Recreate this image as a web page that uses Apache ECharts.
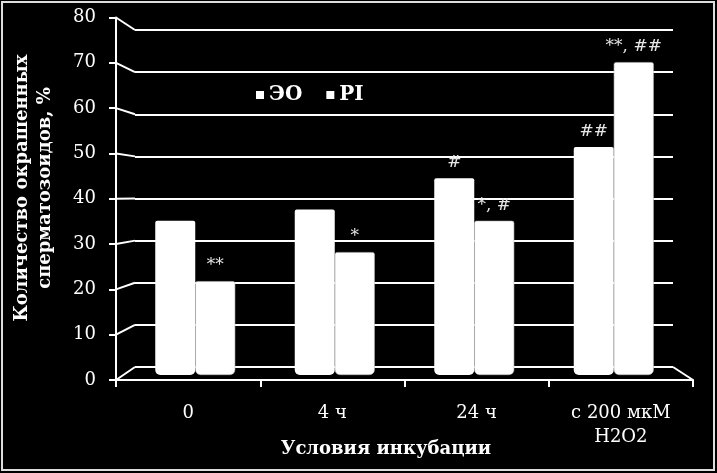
<!DOCTYPE html>
<html><head><meta charset="utf-8">
<script src="https://cdn.jsdelivr.net/npm/echarts@6/dist/echarts.min.js"></script>
<style>html,body{margin:0;padding:0;background:#000}#c{width:717px;height:473px}</style>
</head><body><div id="c"></div>
<script>
const categories = ['0', '4 ч', '24 ч', 'с 200 мкМ\nH2O2'];
const seriesNames = ['ЭО', 'PI'];
const eoValues = [34.5, 37, 44, 51];
const piValues = [21, 27.5, 34.5, 70];
const eoMarks = ['', '', '#', '##'];
const piMarks = ['**', '*', '*, #', '**, ##'];
const yTicks = [0, 10, 20, 30, 40, 50, 60, 70, 80];
const yTitle = ['Количество окрашенных', 'сперматозоидов, %'];
const xTitle = 'Условия инкубации';

const serif = '"DejaVu Serif", "Liberation Serif", serif';
const chart = echarts.init(document.getElementById('c'));

function markLabel(marks) {
  return {
    show: true, position: 'top', distance: 7,
    formatter: p => marks[p.dataIndex],
    color: '#e6e6e6', fontFamily: serif, fontSize: 17
  };
}

const option = {
  backgroundColor: '#000',
  animation: false,
  legend: {
    data: seriesNames, left: 251, top: 80, icon: 'rect',
    itemWidth: 8, itemHeight: 8, itemGap: 24,
    itemStyle: { borderWidth: 0 },
    textStyle: { color: '#fff', fontFamily: serif, fontWeight: 'bold', fontSize: 20 }
  },
  grid: [
    { left: 116, right: 24, top: 17.5, bottom: 93 },
    { left: 135, right: 44, top: 30, bottom: 106 },
    { left: 125.5, right: 33.5, top: 17.4, bottom: 98 }
  ],
  xAxis: [
    { gridIndex: 0, type: 'category', data: categories,
      axisLine: { show: true, lineStyle: { color: '#fff', width: 2 } },
      axisTick: { show: true, length: 7, lineStyle: { color: '#fff', width: 2 } },
      axisLabel: { color: '#fff', fontFamily: serif, fontSize: 18, lineHeight: 24, margin: 21 },
      splitLine: { show: false } },
    { gridIndex: 1, type: 'category', data: categories, show: false },
    { gridIndex: 2, type: 'category', data: categories, show: false }
  ],
  yAxis: [
    { gridIndex: 0, type: 'value', min: 0, max: 80, interval: 10,
      axisLine: { show: true, lineStyle: { color: '#fff', width: 2 } },
      axisTick: { show: true, length: 7, lineStyle: { color: '#fff', width: 2 } },
      axisLabel: { color: '#fff', fontFamily: serif, fontSize: 18, margin: 20 },
      splitLine: { show: false } },
    { gridIndex: 1, type: 'value', min: 0, max: 80, interval: 10,
      axisLine: { show: false }, axisTick: { show: false }, axisLabel: { show: false },
      splitLine: { show: true, lineStyle: { color: '#fff', width: 2 } } },
    { gridIndex: 2, type: 'value', min: 0, max: 80, interval: 10, show: false, splitLine: { show: false } }
  ],
  series: [
    { name: seriesNames[0], type: 'bar', xAxisIndex: 2, yAxisIndex: 2, data: eoValues,
      barWidth: 40, barGap: '0%',
      itemStyle: { color: '#fff', borderRadius: [2, 2, 5, 5] },
      label: markLabel(eoMarks) },
    { name: seriesNames[1], type: 'bar', xAxisIndex: 2, yAxisIndex: 2, data: piValues,
      barWidth: 40, barGap: '0%',
      itemStyle: { color: '#fff', borderRadius: [2, 2, 5, 5], borderColor: '#bbb', borderWidth: 0.6 },
      label: markLabel(piMarks) }
  ]
};
chart.setOption(option);

const front = chart.getModel().getComponent('grid', 0).coordinateSystem.getRect();
const back = chart.getModel().getComponent('grid', 1).coordinateSystem.getRect();
const lineStyle = { stroke: '#fff', lineWidth: 2 };
const graphics = [];
yTicks.forEach(v => {
  const yf = chart.convertToPixel({ yAxisIndex: 0 }, v);
  const yb = chart.convertToPixel({ yAxisIndex: 1 }, v);
  graphics.push({ type: 'line', shape: { x1: front.x, y1: yf, x2: back.x, y2: yb }, style: lineStyle, z: 1 });
});
{
  const yf = chart.convertToPixel({ yAxisIndex: 0 }, yTicks[0]);
  const yb = chart.convertToPixel({ yAxisIndex: 1 }, yTicks[0]);
  graphics.push({ type: 'line', shape: { x1: front.x + front.width, y1: yf, x2: back.x + back.width, y2: yb }, style: lineStyle, z: 1 });
}
graphics.push({ type: 'rect', shape: { x: 2, y: 2, width: 712, height: 468 },
  style: { fill: null, stroke: '#ddd', lineWidth: 2 }, z: 0 });
graphics.push({ type: 'text', x: 22, y: 188, rotation: Math.PI / 2,
  style: { text: yTitle[0], fill: '#fff', font: 'bold 18px ' + serif, textAlign: 'center', textVerticalAlign: 'middle' } });
graphics.push({ type: 'text', x: 45, y: 188, rotation: Math.PI / 2,
  style: { text: yTitle[1], fill: '#fff', font: 'bold 18px ' + serif, textAlign: 'center', textVerticalAlign: 'middle' } });
graphics.push({ type: 'text', x: 386, y: 449,
  style: { text: xTitle, fill: '#fff', font: 'bold 18px ' + serif, textAlign: 'center', textVerticalAlign: 'middle' } });
chart.setOption({ graphic: graphics });
</script>
</body></html>
